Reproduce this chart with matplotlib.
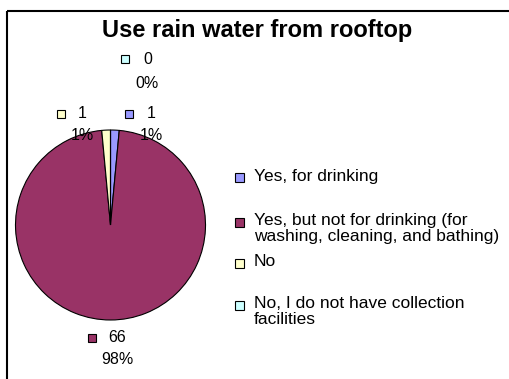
import matplotlib
matplotlib.use('Agg')
import matplotlib.pyplot as plt
import matplotlib.patches as patches

plt.rcParams['font.family'] = ['Liberation Sans', 'DejaVu Sans']

# data
categories = ['Yes, for drinking',
              'Yes, but not for drinking (for\nwashing, cleaning, and bathing)',
              'No',
              'No, I do not have collection\nfacilities']
counts = [1, 66, 1, 0]
pct_labels = ['1%', '98%', '1%', '0%']
colors = ['#9999FF', '#993366', '#FFFFCC', '#CCFFFF']
title = 'Use rain water from rooftop'

W, H = 510, 379
fig = plt.figure(figsize=(W / 100, H / 100), dpi=100)

# pie (center ~ (110.5, 225) px, radius 95 px)
cx, cy, r = 110.5, 225, 95
pax = fig.add_axes([(cx - r) / W, (H - cy - r) / H, 2 * r / W, 2 * r / H])
pax.pie(counts, colors=colors, startangle=90, counterclock=False,
        wedgeprops=dict(edgecolor='black', linewidth=0.8))
pax.set_xlim(-1.0, 1.0)
pax.set_ylim(-1.0, 1.0)
pax.axis('off')

# overlay in pixel coords
ov = fig.add_axes([0, 0, 1, 1], zorder=5)
ov.set_xlim(0, W)
ov.set_ylim(H, 0)
ov.axis('off')
ov.patch.set_alpha(0)

# frame (only top/left visible)
ov.add_patch(patches.Rectangle((7, 11), 600, 500, fill=False,
                               edgecolor='black', linewidth=1.5))

ov.text(257, 30, title, fontsize=17, fontweight='bold', ha='center', va='center')


def square(x, y, c, s=8):
    ov.add_patch(patches.Rectangle((x - s / 2, y - s / 2), s, s, facecolor=c,
                                   edgecolor='black', linewidth=0.8))


# data labels: (square x, y, value text x, pct x, pct y)
label_pos = [(129, 114, 147, 151, 135),
             (92, 338, 108, 117.5, 359),
             (61, 114, 78, 82, 135),
             (125, 59, 143, 147, 83)]
for i, (sx, sy, tx, px, py) in enumerate(label_pos):
    square(sx, sy, colors[i], s=8.5)
    ov.text(tx, sy, str(counts[i]), fontsize=11.5, ha='left', va='center')
    ov.text(px, py, pct_labels[i], fontsize=11.5, ha='center', va='center')

# legend
leg_y = [177, 222, 263, 305]
for i, lab in enumerate(categories):
    square(240, leg_y[i], colors[i], s=9)
    ov.text(254, leg_y[i] - 8.5, lab, fontsize=12.5, ha='left', va='top',
            linespacing=1.08)

fig.savefig('out.png', dpi=100)
